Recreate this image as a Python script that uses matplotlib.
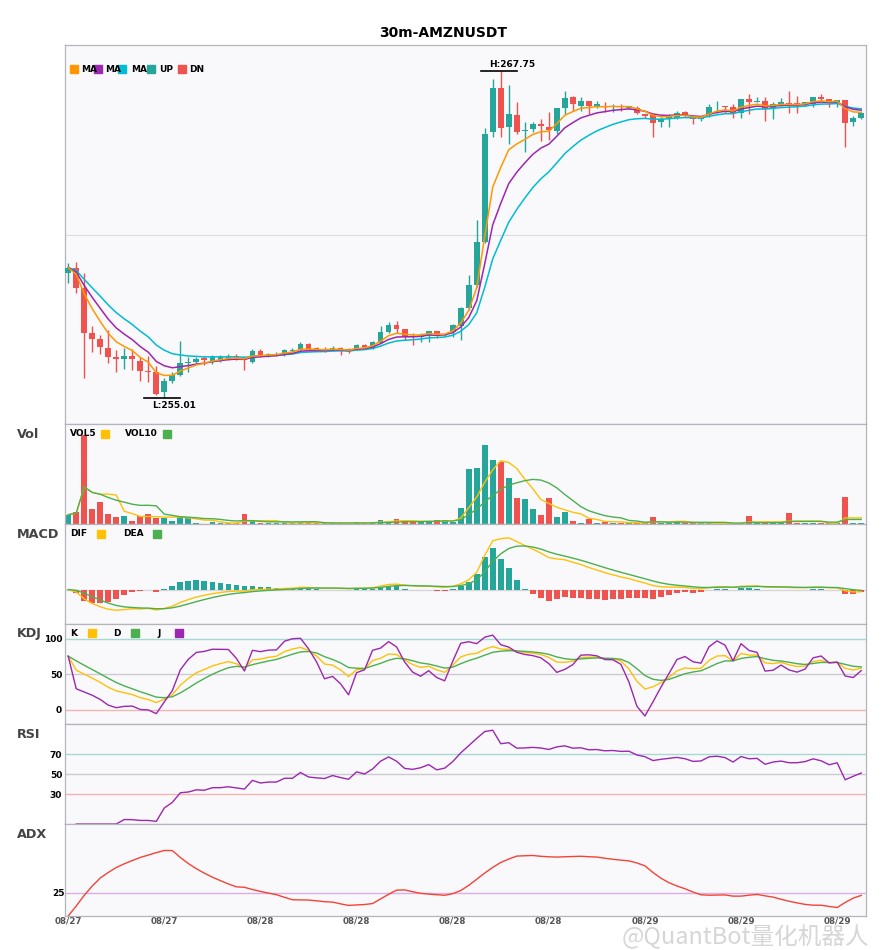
import numpy as np
import pandas as pd
import matplotlib
matplotlib.use("Agg")
import matplotlib.pyplot as plt
from matplotlib.patches import Rectangle

symbol = "30m-AMZNUSDT"

opens = [259.89, 260.09, 259.31, 257.55, 257.31, 256.96, 256.61, 256.53, 256.65, 256.45,
         256.06, 256.02, 255.24, 255.67, 255.91, 256.38, 256.42, 256.57, 256.46, 256.49,
         256.53, 256.65, 256.61, 256.42, 256.85, 256.65, 256.69, 256.73, 256.85, 256.88,
         257.12, 256.95, 256.92, 256.88, 256.96, 256.92, 256.92, 257.08, 256.96, 257.16,
         257.59, 257.86, 257.71, 257.43, 257.39, 257.47, 257.63, 257.47, 257.59, 257.82,
         258.53, 259.42, 261.10, 265.36, 267.08, 265.56, 266.03, 265.40, 265.48, 265.67,
         265.56, 265.40, 266.30, 266.73, 266.38, 266.57, 266.41, 266.41, 266.38, 266.41,
         266.30, 266.30, 266.07, 266.03, 265.75, 265.91, 265.91, 266.15, 265.95, 265.87,
         266.07, 266.38, 266.41, 266.34, 266.11, 266.65, 266.53, 266.57, 266.30, 266.45,
         266.50, 266.49, 266.45, 266.45, 266.73, 266.65, 266.49, 266.61, 265.75, 265.91]
highs = [260.28, 260.32, 259.89, 257.82, 257.47, 257.67, 256.88, 256.96, 256.92, 256.61,
         256.65, 256.26, 255.79, 256.03, 257.24, 256.61, 256.61, 256.65, 256.68, 256.68,
         256.73, 256.72, 256.65, 256.90, 256.90, 256.76, 256.78, 256.92, 256.94, 257.20,
         257.16, 257.00, 256.98, 257.02, 257.00, 256.96, 257.12, 257.12, 257.24, 257.82,
         257.98, 258.02, 257.71, 257.55, 257.55, 257.63, 257.63, 257.55, 257.90, 258.56,
         259.81, 261.96, 265.52, 267.43, 267.75, 267.20, 266.53, 265.75, 265.75, 265.87,
         266.15, 266.30, 266.96, 266.77, 266.73, 266.57, 266.57, 266.53, 266.45, 266.45,
         266.41, 266.41, 266.07, 266.07, 265.95, 266.07, 266.20, 266.20, 266.03, 265.95,
         266.45, 266.57, 266.41, 266.45, 266.65, 266.84, 266.73, 266.73, 266.53, 266.69,
         266.96, 266.80, 266.53, 266.73, 266.84, 266.65, 266.61, 266.61, 265.99, 266.15]
lows = [259.50, 259.11, 255.79, 256.81, 256.73, 256.38, 256.03, 256.14, 256.10, 255.67,
        255.63, 255.13, 255.01, 255.60, 255.87, 256.00, 256.38, 256.30, 256.34, 256.40,
        256.50, 256.50, 256.10, 256.38, 256.60, 256.60, 256.64, 256.66, 256.80, 256.85,
        256.88, 256.82, 256.80, 256.82, 256.70, 256.74, 256.88, 256.96, 256.92, 257.16,
        257.55, 257.55, 257.28, 257.08, 257.20, 257.20, 257.35, 257.43, 257.39, 257.28,
        258.45, 259.35, 261.06, 265.17, 265.17, 264.89, 265.28, 264.58, 265.36, 265.01,
        265.05, 265.28, 266.07, 266.20, 266.20, 266.07, 266.30, 266.15, 266.15, 266.20,
        266.26, 266.07, 265.93, 265.17, 265.56, 265.56, 265.87, 265.95, 265.69, 265.80,
        265.95, 266.11, 266.11, 265.91, 265.91, 266.07, 266.53, 265.79, 265.87, 266.38,
        266.11, 266.11, 266.38, 266.34, 266.57, 266.34, 266.34, 264.81, 265.63, 265.87]
closes = [260.09, 259.31, 257.55, 257.31, 257.00, 256.61, 256.53, 256.65, 256.53, 256.06,
          256.02, 255.17, 255.67, 255.91, 256.38, 256.42, 256.53, 256.49, 256.61, 256.61,
          256.65, 256.57, 256.49, 256.85, 256.69, 256.73, 256.73, 256.88, 256.88, 257.12,
          256.92, 256.88, 256.85, 256.96, 256.88, 256.81, 257.08, 257.00, 257.20, 257.59,
          257.86, 257.71, 257.43, 257.39, 257.47, 257.63, 257.43, 257.51, 257.86, 258.53,
          259.42, 261.10, 265.28, 267.08, 265.52, 266.07, 265.36, 265.44, 265.67, 265.60,
          265.44, 266.30, 266.69, 266.45, 266.57, 266.38, 266.45, 266.34, 266.41, 266.34,
          266.38, 266.11, 265.99, 265.71, 265.87, 265.99, 266.11, 266.03, 265.87, 265.91,
          266.34, 266.41, 266.34, 266.11, 266.65, 266.53, 266.57, 266.26, 266.45, 266.53,
          266.45, 266.45, 266.53, 266.73, 266.65, 266.49, 266.61, 265.71, 265.91, 266.11]
volumes = [9.3, 12.3, 89.0, 15.3, 22.3, 10.3, 7.3, 8.3, 3.3, 8.3,
           10.3, 6.3, 6.3, 3.3, 8.3, 6.3, 1.3, 0.4, 2.3, 0.6,
           0.6, 0.6, 10.3, 3.3, 1.3, 1.3, 0.7, 1.0, 1.0, 1.5,
           1.5, 0.7, 0.7, 0.7, 0.7, 1.0, 1.5, 1.0, 2.0, 4.0,
           3.0, 5.0, 2.5, 2.0, 1.5, 3.0, 3.5, 4.3, 1.7, 16.3,
           55.3, 56.3, 78.3, 63.3, 62.3, 46.3, 26.3, 25.3, 15.3, 9.3,
           26.3, 7.3, 12.3, 3.3, 1.3, 4.7, 1.3, 2.3, 1.3, 1.3,
           0.7, 0.7, 0.7, 7.3, 1.3, 0.7, 3.3, 0.7, 0.7, 0.5,
           0.7, 0.5, 0.5, 0.5, 0.7, 8.3, 0.7, 0.7, 0.7, 0.7,
           11.3, 1.3, 0.7, 0.7, 0.7, 0.7, 0.7, 27.3, 1.3, 0.7]
date_ticks = ["08/27", "08/27", "08/28", "08/28", "08/28", "08/28", "08/29", "08/29", "08/29"]

UP = "#26a69a"
DN = "#ef5350"
BG = "#f9f9fb"
EDGE = "#b4b4bc"

W, H = 885, 950


def fx(px):
    return px / W


def fy(py):
    return 1 - py / H


df = pd.DataFrame({"open": opens, "high": highs, "low": lows, "close": closes, "vol": volumes})
x = np.arange(len(df))
c = df["close"]

# moving averages
ma1 = c.ewm(span=5, adjust=False).mean()
ma2 = c.ewm(span=8, adjust=False).mean()
ma3 = c.ewm(span=13, adjust=False).mean()
vol5 = df["vol"].rolling(5, min_periods=1).mean()
vol10 = df["vol"].rolling(10, min_periods=1).mean()

# macd (fast settings)
dif = c.ewm(span=6, adjust=False).mean() - c.ewm(span=13, adjust=False).mean()
dea = dif.ewm(span=5, adjust=False).mean()
hist = 2 * (dif - dea)

# kdj
low9 = df["low"].rolling(9, min_periods=1).min()
high9 = df["high"].rolling(9, min_periods=1).max()
rsv = (c - low9) / (high9 - low9) * 100
k = rsv.ewm(com=2, adjust=False).mean()
d = k.ewm(com=2, adjust=False).mean()
j = 3 * k - 2 * d

# rsi
delta = c.diff()
gain = delta.clip(lower=0).ewm(com=13).mean()
loss = (-delta.clip(upper=0)).ewm(com=13).mean()
rsi = 100 * gain / (gain + loss)

# adx
prev_c = c.shift(1)
tr = pd.concat([df["high"] - df["low"], (df["high"] - prev_c).abs(),
                (df["low"] - prev_c).abs()], axis=1).max(axis=1)
pdm = df["high"].diff().fillna(0).clip(lower=0)
ndm = (-df["low"].diff()).fillna(0).clip(lower=0)
atr = tr.ewm(alpha=0.1, adjust=False).mean()
pdi = 100 * pdm.ewm(alpha=0.1, adjust=False).mean() / atr
ndi = 100 * ndm.ewm(alpha=0.1, adjust=False).mean() / atr
dx = (100 * (pdi - ndi).abs() / (pdi + ndi)).fillna(0)
adx = dx.ewm(span=14, adjust=False).mean()

fig = plt.figure(figsize=(W / 100, H / 100), dpi=100)
left, width = fx(65), fx(866) - fx(65)
rows = [(45, 424), (424, 524), (524, 624), (624, 724), (724, 824), (824, 916)]
axes = []
for top, bot in rows:
    ax = fig.add_axes([left, fy(bot), width, fy(top) - fy(bot)])
    ax.set_facecolor(BG)
    for s in ax.spines.values():
        s.set_color(EDGE)
        s.set_linewidth(0.9)
    ax.set_xlim(-0.4, len(df) - 0.4)
    ax.tick_params(length=0, labelbottom=False, labelleft=False)
    axes.append(ax)
ax_main, ax_vol, ax_macd, ax_kdj, ax_rsi, ax_adx = axes

colors = [UP if cl >= op else DN for op, cl in zip(opens, closes)]

# candles
ax_main.vlines(x, df["low"], df["high"], colors=colors, lw=1.0, zorder=2)
body = np.maximum((df["close"] - df["open"]).abs(), 0.03)
ax_main.bar(x, body, bottom=np.minimum(df["open"], df["close"]), width=0.72,
            color=colors, zorder=3)
ax_main.plot(x, ma3, color="#00bcd4", lw=1.1, zorder=4)
ax_main.plot(x, ma2, color="#9c27b0", lw=1.1, zorder=4)
ax_main.plot(x, ma1, color="#ff9800", lw=1.1, zorder=4)
lo, hi = min(lows), max(highs)
pad = 0.08 * (hi - lo)
ax_main.set_ylim(lo - pad, hi + pad)
ax_main.axhline((lo + hi) / 2, color="#dcdce0", lw=0.8, zorder=0)

ih, il = int(np.argmax(highs)), int(np.argmin(lows))
ax_main.plot([ih - 2.5, ih + 2], [hi, hi], color="black", lw=1.2, zorder=5)
ax_main.annotate(f"H:{hi:.2f}", (ih - 1.5, hi), xytext=(0, 1.5), textcoords="offset points",
                 fontsize=6.5, fontweight="bold", va="bottom", ha="left")
ax_main.plot([il - 2.5, il + 2], [lo, lo], color="black", lw=1.2, zorder=5)
ax_main.annotate(f"L:{lo:.2f}", (il - 1.5, lo), xytext=(0, -2.5), textcoords="offset points",
                 fontsize=6.5, fontweight="bold", va="top", ha="left")

# volume
ax_vol.bar(x, df["vol"], width=0.72, color=colors, zorder=2)
ax_vol.plot(x, vol5, color="#ffc107", lw=1.0, zorder=3)
ax_vol.plot(x, vol10, color="#4caf50", lw=1.0, zorder=3)
ax_vol.set_ylim(0, max(volumes) * 1.12)

# macd
hcol = [UP if v >= 0 else DN for v in hist]
ax_macd.axhline(0, color="#d6d6da", lw=1.0, zorder=1)
ax_macd.bar(x, hist, width=0.72, color=hcol, zorder=2)
ax_macd.plot(x, dif, color="#ffc107", lw=1.0, zorder=3)
ax_macd.plot(x, dea, color="#4caf50", lw=1.0, zorder=3)
mvals = pd.concat([dif, dea, hist])
mlo, mhi = mvals.min(), mvals.max()
mpad = 0.19 * (mhi - mlo)
ax_macd.set_ylim(mlo - mpad, mhi + mpad)

# kdj
ax_kdj.axhline(100, color="#a6d9d4", lw=1.0)
ax_kdj.axhline(50, color="#cbcbd0", lw=1.0)
ax_kdj.axhline(0, color="#f5b3b3", lw=1.0)
ax_kdj.plot(x, k, color="#ffc107", lw=1.0)
ax_kdj.plot(x, d, color="#4caf50", lw=1.0)
ax_kdj.plot(x, j, color="#9c27b0", lw=1.0)
ax_kdj.set_ylim(-20, 121)
ax_kdj.set_yticks([0, 50, 100])

# rsi
ax_rsi.axhline(70, color="#a6d9d4", lw=1.0)
ax_rsi.axhline(50, color="#cbcbd0", lw=1.0)
ax_rsi.axhline(30, color="#f5b3b3", lw=1.0)
ax_rsi.plot(x, rsi, color="#9c27b0", lw=1.0)
ax_rsi.set_ylim(0, 100)
ax_rsi.set_yticks([30, 50, 70])

# adx
ax_adx.axhline(25, color="#dcaee6", lw=1.0)
ax_adx.plot(x, adx, color="#f44336", lw=1.0)
ax_adx.set_ylim(0, 100)
ax_adx.set_yticks([25])

for ax in (ax_kdj, ax_rsi, ax_adx):
    ax.tick_params(labelleft=True, pad=2)
    for t in ax.get_yticklabels():
        t.set_fontsize(6.5)
        t.set_fontweight("bold")

ax_adx.set_xticks(range(0, len(df), 12))
ax_adx.set_xticklabels(date_ticks, fontsize=6.3, fontweight="bold", color="#555555")
ax_adx.tick_params(labelbottom=True, pad=0.5)


# legends drawn by hand
def patch(px, py, color):
    fig.add_artist(Rectangle((fx(px), fy(py + 4)), fx(8), 8 / H, color=color,
                             transform=fig.transFigure))


def label(px, py, s):
    fig.text(fx(px), fy(py), s, fontsize=6.5, fontweight="bold", va="center", ha="left")


for px, s in [(81, "MA"), (105, "MA"), (131, "MA"), (159, "UP"), (189, "DN")]:
    label(px, 69, s)
for px, col in [(70, "#ff9800"), (94, "#9c27b0"), (118, "#00bcd4"), (147, UP), (178, DN)]:
    patch(px, 69, col)

label(70, 434, "VOL5")
patch(101, 434, "#ffc107")
label(125, 434, "VOL10")
patch(163, 434, "#4caf50")

label(70, 534, "DIF")
patch(97, 534, "#ffc107")
label(123, 534, "DEA")
patch(153, 534, "#4caf50")

label(70, 633, "K")
patch(88, 633, "#ffc107")
label(113, 633, "D")
patch(131, 633, "#4caf50")
label(157, 633, "J")
patch(175, 633, "#9c27b0")

for name, py in [("Vol", 434), ("MACD", 535), ("KDJ", 634), ("RSI", 735), ("ADX", 835)]:
    fig.text(fx(17), fy(py), name, fontsize=9.2, fontweight="bold", color="#444444",
             va="center", ha="left")

fig.text(fx(443), fy(33), symbol, fontsize=10, fontweight="bold", ha="center", va="center")
fig.text(fx(622), fy(937), "@QuantBot量化机器人", fontsize=17, color="#d6d6d6",
         family=["Noto Sans CJK SC", "DejaVu Sans"], ha="left", va="center")

fig.savefig("out.png", dpi=100, facecolor="white")
